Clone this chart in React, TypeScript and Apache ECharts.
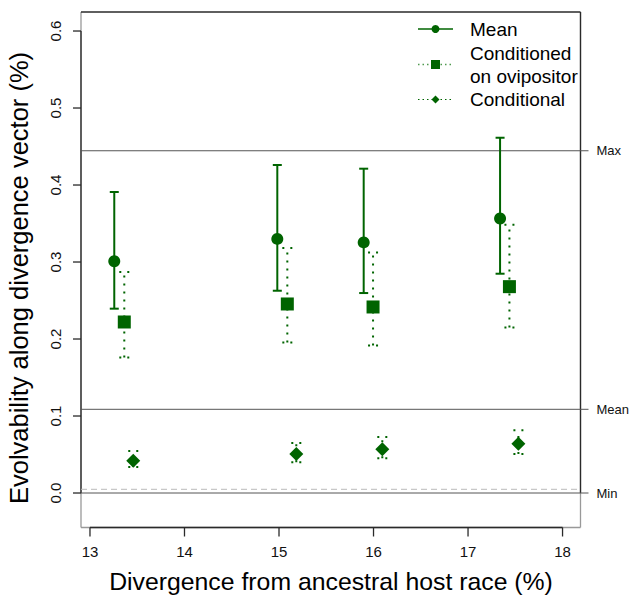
import React, { useEffect, useRef } from "react";
import * as echarts from "echarts";

// ---- data ----
const meanX = [13.257, 14.982, 15.896, 17.339];
const meanY = [0.301, 0.33, 0.3255, 0.3566];
const meanLo = [0.2394, 0.2627, 0.2597, 0.2848];
const meanHi = [0.3909, 0.426, 0.4212, 0.4614];

const oviX = [13.363, 15.088, 15.995, 17.438];
const oviY = [0.2221, 0.2455, 0.2416, 0.268];
const oviLo = [0.1761, 0.1956, 0.1917, 0.215];
const oviHi = [0.287, 0.3182, 0.3125, 0.3485];

const condX = [13.458, 15.183, 16.093, 17.533];
const condY = [0.042, 0.0506, 0.0567, 0.064];
const condLo = [0.0338, 0.0398, 0.045, 0.0506];
const condHi = [0.0545, 0.065, 0.0727, 0.0814];

const refNames = ["Max", "Mean", "Min"];
const refValues = [0.4445, 0.1087, 0];
const nullValue = 0.0048;

const xTicks = [13, 14, 15, 16, 17, 18];
const yTicks = [0, 0.1, 0.2, 0.3, 0.4, 0.5, 0.6];
const xRange = [12.905, 18.19];
const yRange = [-0.0448, 0.6247];

const GREEN = "#006400";
const FONT = "'Liberation Sans', Arial, Helvetica, sans-serif";

function errorBarSeries(name: string, xs: number[], lo: number[], hi: number[], dotted: boolean) {
  return {
    type: "custom",
    name,
    silent: true,
    z: 3,
    data: xs.map((x, i) => [x, lo[i], hi[i]]),
    renderItem: (params: any, api: any) => {
      const x = api.value(0);
      const pLo = api.coord([x, api.value(1)]);
      const pHi = api.coord([x, api.value(2)]);
      const half = dotted ? 5 : 4.5;
      const mk = () => ({
        stroke: GREEN,
        lineWidth: 2,
        lineDash: dotted ? [2, 6] : null,
      });
      return {
        type: "group",
        children: [
          { type: "line", shape: { x1: pLo[0], y1: pLo[1], x2: pHi[0], y2: pHi[1] }, style: mk() },
          { type: "line", shape: { x1: pHi[0] - half, y1: pHi[1], x2: pHi[0] + half, y2: pHi[1] }, style: mk() },
          { type: "line", shape: { x1: pLo[0] - half, y1: pLo[1], x2: pLo[0] + half, y2: pLo[1] }, style: mk() },
        ],
      };
    },
  };
}

export default function App() {
  const ref = useRef<HTMLDivElement>(null);
  useEffect(() => {
    if (!ref.current) return;
    const chart = echarts.init(ref.current, null, { renderer: "svg" });

    const dark = () => ({ stroke: "#2a2a2a", lineWidth: 1.3 });
    const light = () => ({ stroke: "#999", lineWidth: 1.3 });

    const frameSeries = {
      type: "custom",
      silent: true,
      z: 1,
      clip: false,
      data: [[0]],
      renderItem: (params: any, api: any) => {
        const tl = api.coord([xRange[0], yRange[1]]);
        const br = api.coord([xRange[1], yRange[0]]);
        const y0 = api.coord([xRange[0], 0]);
        const y6 = api.coord([xRange[0], 0.6]);
        const x13 = api.coord([13, yRange[0]]);
        const x18 = api.coord([18, yRange[0]]);
        return {
          type: "group",
          children: [
            { type: "line", shape: { x1: tl[0], y1: tl[1], x2: tl[0], y2: br[1] }, style: light() },
            { type: "line", shape: { x1: tl[0], y1: br[1], x2: br[0], y2: br[1] }, style: light() },
            { type: "line", shape: { x1: br[0], y1: tl[1], x2: br[0], y2: br[1] }, style: light() },
            { type: "line", shape: { x1: tl[0], y1: tl[1], x2: br[0], y2: tl[1] }, style: dark() },
            { type: "line", shape: { x1: tl[0], y1: y0[1], x2: tl[0], y2: y6[1] }, style: dark() },
            { type: "line", shape: { x1: x13[0], y1: br[1], x2: x18[0], y2: br[1] }, style: dark() },
            { type: "line", shape: { x1: br[0], y1: tl[1], x2: br[0], y2: y0[1] }, style: dark() },
          ],
        };
      },
    };

    const xTickSeries = {
      type: "custom",
      silent: true,
      z: 2,
      clip: false,
      data: xTicks.map((t) => [t, yRange[0]]),
      renderItem: (params: any, api: any) => {
        const p = api.coord([api.value(0), api.value(1)]);
        return {
          type: "line",
          shape: { x1: p[0], y1: p[1], x2: p[0], y2: p[1] + 9 },
          style: dark(),
        };
      },
    };

    const yTickSeries = {
      type: "custom",
      silent: true,
      z: 2,
      clip: false,
      data: yTicks.map((t) => [xRange[0], t]),
      renderItem: (params: any, api: any) => {
        const p = api.coord([api.value(0), api.value(1)]);
        return {
          type: "line",
          shape: { x1: p[0] - 8, y1: p[1], x2: p[0], y2: p[1] },
          style: dark(),
        };
      },
    };

    const nullSeries = {
      type: "custom",
      silent: true,
      z: 1,
      data: [[nullValue]],
      renderItem: (params: any, api: any) => {
        const a = api.coord([xRange[0], api.value(0)]);
        const b = api.coord([xRange[1], api.value(0)]);
        return {
          type: "line",
          shape: { x1: a[0], y1: a[1], x2: b[0], y2: b[1] },
          style: { stroke: "#bbb", lineWidth: 1, lineDash: [6, 4] },
        };
      },
    };

    const refSeries = {
      type: "custom",
      silent: true,
      z: 2,
      clip: false,
      data: refValues.map((v, i) => [v, i]),
      renderItem: (params: any, api: any) => {
        const a = api.coord([xRange[0], api.value(0)]);
        const b = api.coord([xRange[1], api.value(0)]);
        const idx = api.value(1);
        return {
          type: "group",
          children: [
            {
              type: "line",
              shape: { x1: a[0], y1: a[1], x2: b[0] + 8, y2: b[1] },
              style: { stroke: "#555", lineWidth: 1 },
            },
            {
              type: "text",
              x: b[0] + 16,
              y: b[1],
              style: {
                text: refNames[idx],
                fill: "#111",
                font: `13px ${FONT}`,
                verticalAlign: "middle",
                align: "left",
              },
            },
          ],
        };
      },
    };

    const legendY = [29, 64.5, 99.5];
    const lx1 = 418;
    const lx2 = 453;
    const lxc = 435.5;
    const legendGraphics: any[] = [
      { type: "line", shape: { x1: lx1, y1: legendY[0], x2: lx2, y2: legendY[0] }, style: { stroke: GREEN, lineWidth: 1.5 } },
      { type: "circle", shape: { cx: lxc, cy: legendY[0], r: 4 }, style: { fill: GREEN } },
      { type: "line", shape: { x1: lx1, y1: legendY[1], x2: lx2, y2: legendY[1] }, style: { stroke: "#4f9a4f", lineWidth: 1.5, lineDash: [1.5, 3] } },
      { type: "rect", shape: { x: lxc - 4.5, y: legendY[1] - 4.5, width: 9, height: 9 }, style: { fill: GREEN } },
      { type: "line", shape: { x1: lx1, y1: legendY[2], x2: lx2, y2: legendY[2] }, style: { stroke: GREEN, lineWidth: 1, lineDash: [1.5, 3] } },
      { type: "polygon", shape: { points: [[lxc, legendY[2] - 4], [lxc + 4, legendY[2]], [lxc, legendY[2] + 4], [lxc - 4, legendY[2]]] }, style: { fill: GREEN } },
      { type: "text", x: 470, y: 29.5, style: { text: "Mean", font: `19px ${FONT}`, fill: "#000", verticalAlign: "middle" } },
      { type: "text", x: 470, y: 53.5, style: { text: "Conditioned", font: `19px ${FONT}`, fill: "#000", verticalAlign: "middle" } },
      { type: "text", x: 470, y: 76.5, style: { text: "on ovipositor", font: `19px ${FONT}`, fill: "#000", verticalAlign: "middle" } },
      { type: "text", x: 470, y: 99.5, style: { text: "Conditional", font: `19px ${FONT}`, fill: "#000", verticalAlign: "middle" } },
      {
        type: "text",
        x: 331,
        y: 581,
        style: { text: "Divergence from ancestral host race (%)", font: `24.8px ${FONT}`, fill: "#000", align: "center", verticalAlign: "middle" },
      },
      {
        type: "text",
        x: 19,
        y: 278,
        rotation: Math.PI / 2,
        style: { text: "Evolvability along divergence vector (%)", font: `25.5px ${FONT}`, fill: "#000", align: "center", verticalAlign: "middle" },
      },
    ];

    chart.setOption({
      animation: false,
      backgroundColor: "#fff",
      grid: {
        left: 81,
        top: 12,
        width: 499.5,
        height: 515.5,
        show: false,
      },
      xAxis: {
        type: "value",
        min: xRange[0],
        max: xRange[1],
        splitLine: { show: false },
        axisLine: { show: false },
        axisTick: { show: false },
        axisLabel: {
          customValues: xTicks,
          margin: 16,
          fontSize: 15,
          color: "#111",
          fontFamily: FONT,
          formatter: (v: number) => String(v),
        },
      },
      yAxis: {
        type: "value",
        min: yRange[0],
        max: yRange[1],
        splitLine: { show: false },
        axisLine: { show: false },
        axisTick: { show: false },
        axisLabel: {
          customValues: yTicks,
          rotate: 90,
          margin: 18,
          fontSize: 15,
          color: "#111",
          fontFamily: FONT,
          formatter: (v: number) => v.toFixed(1),
        },
      },
      graphic: legendGraphics,
      series: [
        frameSeries,
        xTickSeries,
        yTickSeries,
        nullSeries,
        refSeries,
        errorBarSeries("meanErr", meanX, meanLo, meanHi, false),
        errorBarSeries("oviErr", oviX, oviLo, oviHi, true),
        errorBarSeries("condErr", condX, condLo, condHi, true),
        {
          type: "scatter",
          name: "Mean",
          z: 4,
          symbol: "circle",
          symbolSize: 12,
          itemStyle: { color: GREEN, opacity: 1 },
          data: meanX.map((x, i) => [x, meanY[i]]),
        },
        {
          type: "scatter",
          name: "Conditioned on ovipositor",
          z: 4,
          symbol: "rect",
          symbolSize: 13,
          itemStyle: { color: GREEN, opacity: 1 },
          data: oviX.map((x, i) => [x, oviY[i]]),
        },
        {
          type: "scatter",
          name: "Conditional",
          z: 4,
          symbol: "diamond",
          symbolSize: 14,
          itemStyle: { color: GREEN, opacity: 1 },
          data: condX.map((x, i) => [x, condY[i]]),
        },
      ],
    });
    return () => chart.dispose();
  }, []);

  return (
    <div
      ref={ref}
      style={{ position: "fixed", left: 0, top: 0, width: 631, height: 597, background: "#fff" }}
    />
  );
}
